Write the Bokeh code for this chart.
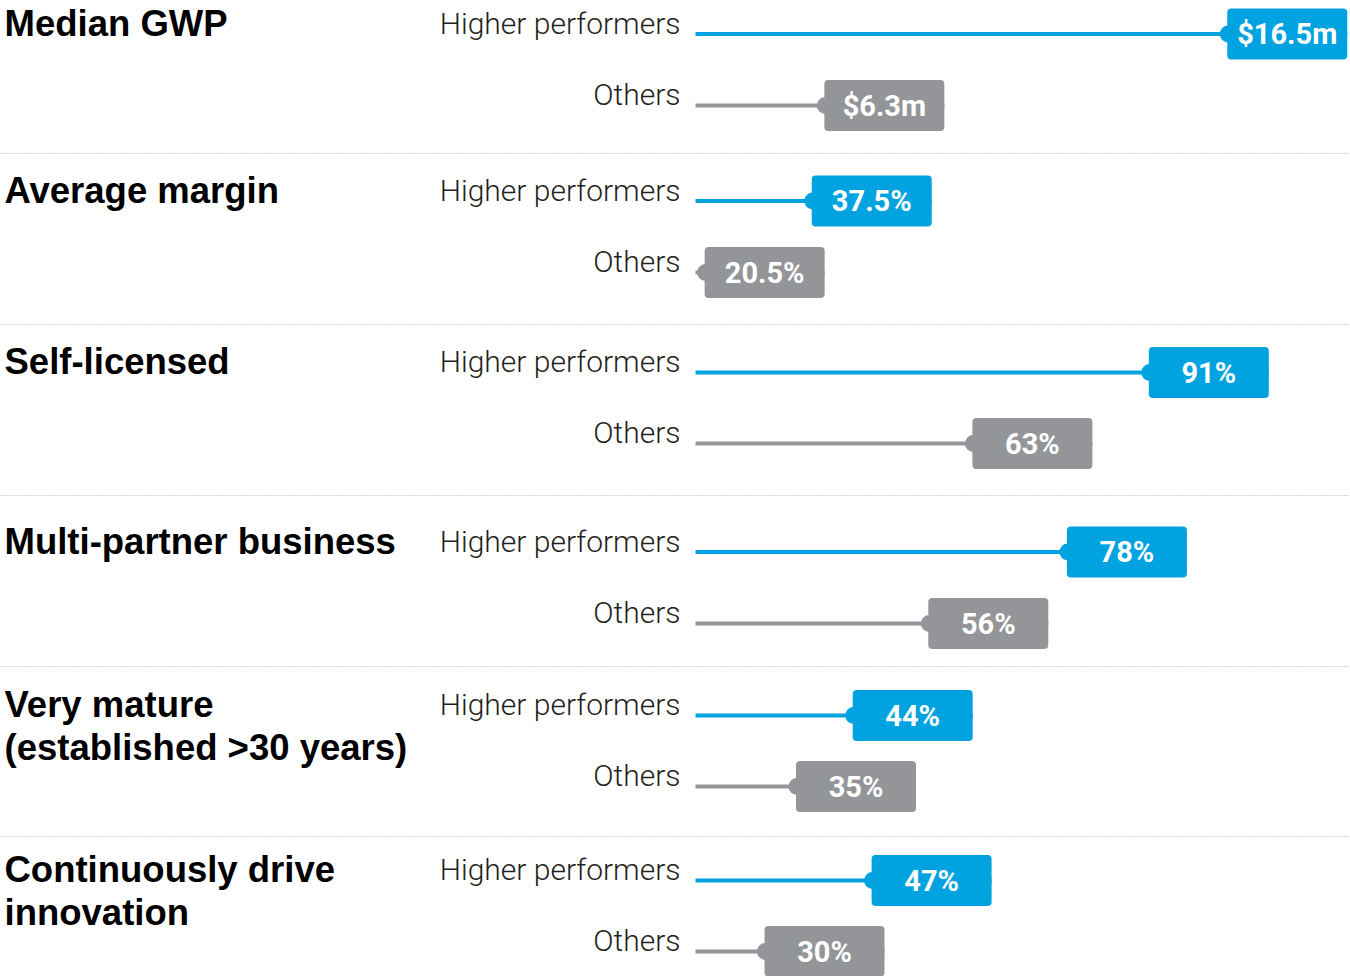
from bokeh.plotting import figure
from bokeh.models import ColumnDataSource, Range1d, Span
from bokeh.transform import dodge
from bokeh.core.properties import value
from bokeh.embed import file_html
from bokeh.resources import INLINE

# ---------------- data ----------------
categories = ["Median GWP", "Average margin", "Self-licensed", "Multi-partner business",
              "Very mature\n(established >30 years)", "Continuously drive\ninnovation"]
series = ["Higher performers", "Others"]
higher_values = [16.5, 37.5, 91, 78, 44, 47]
other_values = [6.3, 20.5, 63, 56, 35, 30]
higher_labels = ["$16.5m", "37.5%", "91%", "78%", "44%", "47%"]
other_labels = ["$6.3m", "20.5%", "63%", "56%", "35%", "30%"]
units = ["gwp", "pct", "pct", "pct", "pct", "pct"]

# ---------------- layout / style ----------------
W, H = 1350, 976
X0, X1 = 0, 1350          # layout coordinate span (px-like)
Y0, Y1 = 976, 0
ZERO_X = 695              # where each bar starts
PX_PER = {"pct": 6.3, "gwp": 39.5}
BOX_W = 120
BOX_H = 51
hp_y = [33.5, 200.5, 372, 551.5, 715, 880]
ot_y = [105, 272, 443, 623, 786, 951]
sep_y = [153, 324, 495, 666, 836]
BLUE = "#00a3e0"
GREY = "#939598"

p = figure(width=W, height=H, output_backend="svg", toolbar_location=None,
           x_range=Range1d(X0, X1), y_range=Range1d(Y0, Y1),
           min_border=0, outline_line_color=None)
p.xaxis.visible = False
p.yaxis.visible = False
p.grid.visible = False
p.background_fill_color = "white"
p.border_fill_color = "white"

p.extra_x_ranges = {
    name: Range1d((X0 - ZERO_X) / s, (X1 - ZERO_X) / s) for name, s in PX_PER.items()
}

# separators
for y in sep_y:
    p.add_layout(Span(location=y, dimension="width", line_color="#a7a9ac",
                      line_width=1, line_dash="1 2"))

# headings
head_x, head_y, head_t = [], [], []
for i, cat in enumerate(categories):
    for j, line in enumerate(cat.split("\n")):
        head_x.append(4)
        head_y.append(hp_y[i] - 11 + j * 43)
        head_t.append(line)
p.text(x=head_x, y=head_y, text=head_t, text_font=value("Liberation Sans"),
       text_font_style="bold", text_font_size="36.5px", text_color="#000000",
       text_align="left", text_baseline="alphabetic")

# series labels
lab_x, lab_y, lab_t = [], [], []
for i in range(len(categories)):
    lab_x += [680, 680]
    lab_y += [hp_y[i] - 11, ot_y[i] - 11]
    lab_t += series
p.text(x=lab_x, y=lab_y, text=lab_t, text_font=value("Roboto Light"),
       text_font_size="30px", text_color="#231f20",
       text_align="right", text_baseline="alphabetic")

# bars + tags
for i in range(len(categories)):
    rng = units[i]
    bw = BOX_W / PX_PER[rng]
    for vals, labs, ys, col in ((higher_values, higher_labels, hp_y, BLUE),
                                (other_values, other_labels, ot_y, GREY)):
        src = ColumnDataSource(dict(v=[vals[i]], y=[ys[i]], lab=[labs[i]], z=[0]))
        p.segment(x0="z", y0="y", x1="v", y1="y", source=src, x_range_name=rng,
                  line_color=col, line_width=4)
        p.hbar(y="y", left=dodge("v", -bw), right="v", height=BOX_H, source=src,
               x_range_name=rng, fill_color=col, line_color=None, border_radius=4)
        p.scatter(x=dodge("v", -bw + 1.0 / PX_PER[rng]), y="y", size=17, source=src,
                  x_range_name=rng, fill_color=col, line_color=None)
        p.text(x=dodge("v", -bw / 2), y="y", text="lab", source=src, x_range_name=rng,
               text_font=value("Roboto"), text_font_style="bold",
               text_font_size="29px", text_color="white",
               text_align="center", text_baseline="middle")

open("out.html", "w").write(file_html(p, INLINE))
